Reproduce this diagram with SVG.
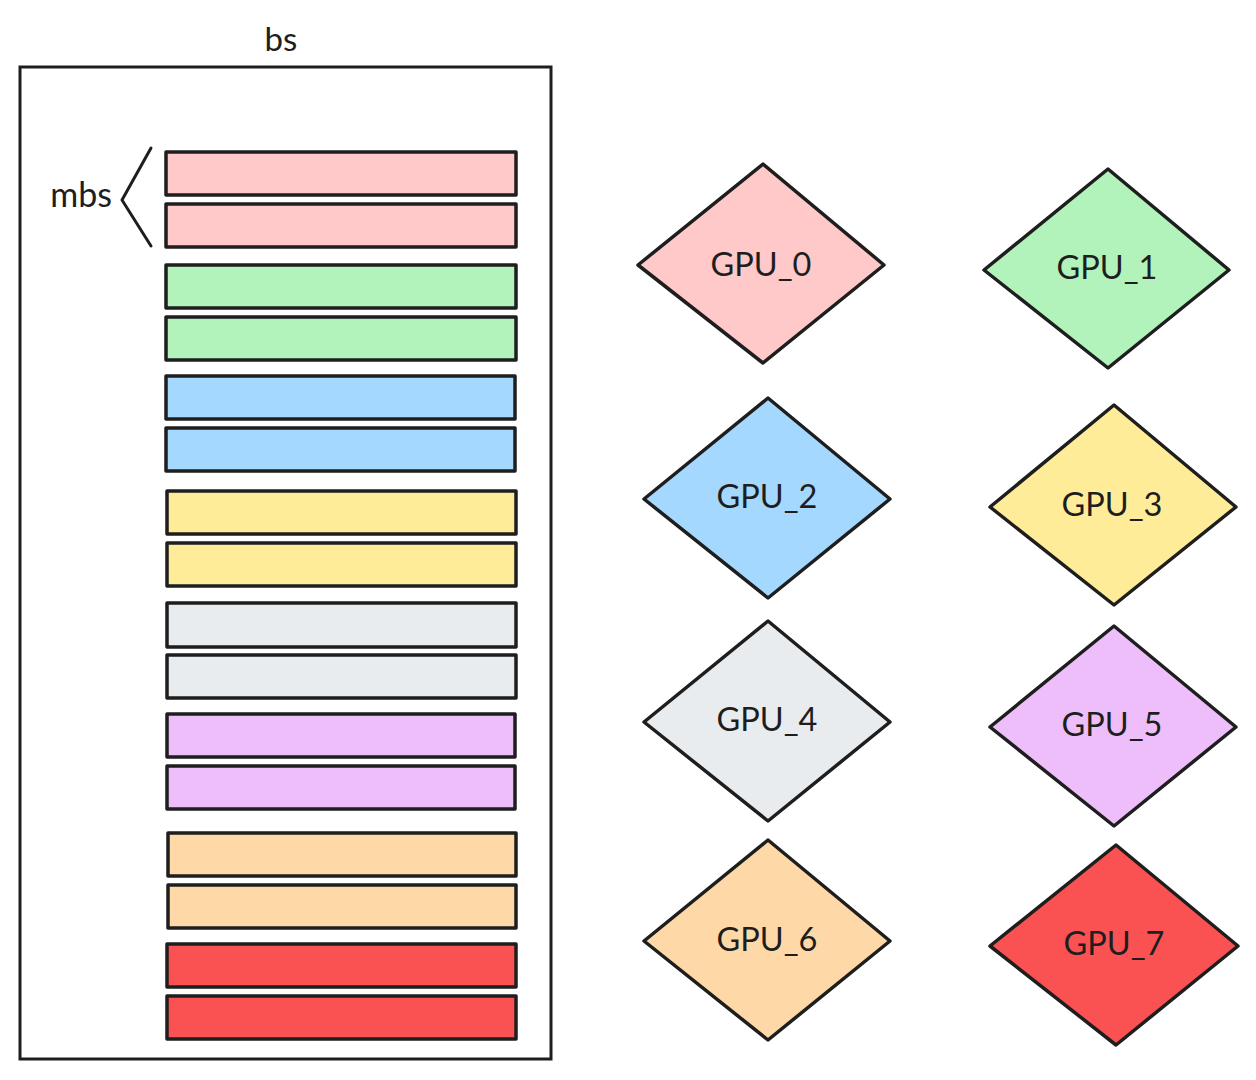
<svg xmlns="http://www.w3.org/2000/svg" width="1256" height="1080" viewBox="0 0 1256 1080">
<style>
.t{font-family:Lato,"Liberation Sans",sans-serif;font-size:32.5px;fill:#1e1e1e}
.c{text-anchor:middle;dominant-baseline:central}
.bar{stroke:#1e1e1e;stroke-width:3.5;stroke-linejoin:round}
.d{stroke:#1e1e1e;stroke-width:3.5;stroke-linejoin:round}
.pk{fill:#ffc9c9}.gr{fill:#b2f2bb}.bl{fill:#a5d8ff}.ye{fill:#ffec99}.gy{fill:#e9ecef}.pu{fill:#eebefa}.or{fill:#ffd8a8}.rd{fill:#fa5252}
</style>
<rect width="1256" height="1080" fill="#ffffff"/>
<g id="batch">
<rect x="20" y="67" width="531" height="992" fill="none" stroke="#1e1e1e" stroke-width="3"/>
<text class="t" x="281" y="51" text-anchor="middle" style="font-size:33px">bs</text>
</g>
<g id="mbs">
<text class="t" x="112" y="207" text-anchor="end" style="font-size:34px">mbs</text>
<polyline points="151,148 122,200 151,246" fill="none" stroke="#1e1e1e" stroke-width="3" stroke-linecap="round" stroke-linejoin="round"/>
</g>
<g id="bars">
<rect class="bar pk" x="166" y="152" width="350" height="43"/>
<rect class="bar pk" x="166" y="204" width="350" height="43"/>
<rect class="bar gr" x="166" y="265" width="350" height="43"/>
<rect class="bar gr" x="166" y="317" width="350" height="43"/>
<rect class="bar bl" x="166" y="376" width="349" height="43"/>
<rect class="bar bl" x="166" y="428" width="349" height="43"/>
<rect class="bar ye" x="167" y="491" width="349" height="43"/>
<rect class="bar ye" x="167" y="543" width="349" height="43"/>
<rect class="bar gy" x="167" y="603" width="349" height="44"/>
<rect class="bar gy" x="167" y="655" width="349" height="43"/>
<rect class="bar pu" x="167" y="714" width="348" height="43"/>
<rect class="bar pu" x="167" y="766" width="348" height="43"/>
<rect class="bar or" x="168" y="833" width="348" height="43"/>
<rect class="bar or" x="168" y="885" width="348" height="43"/>
<rect class="bar rd" x="167" y="944" width="349" height="43"/>
<rect class="bar rd" x="167" y="996" width="349" height="43"/>
</g>
<g id="gpu0"><polygon class="d pk" points="763,164 884,265 763,363 638,265"/><text class="t c" x="761" y="263">GPU_0</text></g>
<g id="gpu1"><polygon class="d gr" points="1108,169 1229,270 1108,368 984,270"/><text class="t c" x="1107" y="266">GPU_1</text></g>
<g id="gpu2"><polygon class="d bl" points="768,398 890,499 768,598 644,499"/><text class="t c" x="767" y="495">GPU_2</text></g>
<g id="gpu3"><polygon class="d ye" points="1114,405 1236,507 1114,605 990,507"/><text class="t c" x="1112" y="503">GPU_3</text></g>
<g id="gpu4"><polygon class="d gy" points="768,621 890,722 768,821 644,722"/><text class="t c" x="767" y="718">GPU_4</text></g>
<g id="gpu5"><polygon class="d pu" points="1114,626 1236,727 1114,826 990,727"/><text class="t c" x="1112" y="723">GPU_5</text></g>
<g id="gpu6"><polygon class="d or" points="768,840 890,941 768,1040 644,941"/><text class="t c" x="767" y="938">GPU_6</text></g>
<g id="gpu7"><polygon class="d rd" points="1116,845 1238,946 1116,1045 990,946"/><text class="t c" x="1114" y="942">GPU_7</text></g>
<g id="connectors"></g>
</svg>
